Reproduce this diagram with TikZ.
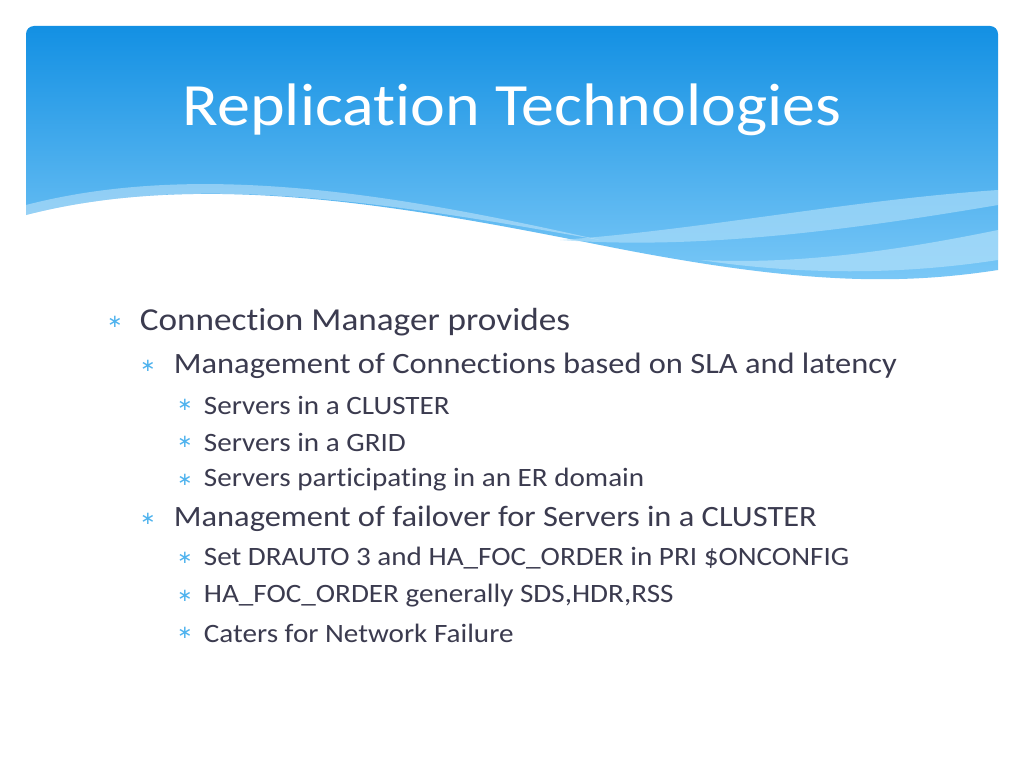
\documentclass[tikz,border=0pt]{standalone}
\usepackage{fontspec}
\setmainfont[Ligatures={NoCommon}]{Carlito}
\newfontfamily\symf{DejaVu Sans}
\definecolor{txt}{HTML}{3B3B4F}
\definecolor{bul}{HTML}{4FB3EE}
\definecolor{topb}{HTML}{1390E3}
\definecolor{botb}{HTML}{7CC9F7}
\definecolor{streak}{HTML}{A9DCF9}
\begin{document}
\begin{tikzpicture}[x=1pt,y=-1pt,
  l1/.style={anchor=west,text=txt,xscale=1.1,font=\fontsize{32}{34}\selectfont},
  l2/.style={anchor=west,text=txt,xscale=1.1,font=\fontsize{29.5}{31}\selectfont},
  l3/.style={anchor=west,text=txt,xscale=1.1,font=\fontsize{26.5}{28}\selectfont},
  b/.style={anchor=center,text=bul,font=\symf\fontsize{18}{18}\selectfont}]
\useasboundingbox (0,0) rectangle (1024,768);
\fill[white] (0,0) rectangle (1024,768);
% header
\begin{scope}
\clip[rounded corners=8] (26,26) rectangle (998,300);
\shade[top color=topb,bottom color=botb]
  (26,26) -- (998,26) -- (998,270)
  .. controls (900,285) and (800,285) .. (600,245)
  .. controls (400,205) and (200,170) .. (26,215) -- cycle;
\fill[streak,opacity=0.7] (998,190) .. controls (850,200) and (700,230) .. (560,240)
  .. controls (700,250) and (850,230) .. (998,205) -- cycle;
\fill[streak,opacity=0.8] (998,230) .. controls (900,250) and (800,265) .. (700,260)
  .. controls (800,275) and (900,275) .. (998,260) -- cycle;
\fill[white,opacity=0.35] (26,215) .. controls (200,170) and (400,205) .. (600,240)
  .. controls (400,195) and (200,160) .. (26,205) -- cycle;
\end{scope}
\node[text=white,xscale=1.1,font=\fontsize{60}{64}\selectfont] (title) at (512,110) {Replication Technologies};
% bullets
\node[b] (b1) at (115,322) {∗}; \node[l1] (t1) at (136,322) {Connection Manager provides};
\node[b] (b2) at (148,366) {∗}; \node[l2] (t2) at (170,366) {Management of Connections based on SLA and latency};
\node[b] (b3) at (185,405) {∗}; \node[l3] (t3) at (200,405) {Servers in a CLUSTER};
\node[b] (b4) at (185,442) {∗}; \node[l3] (t4) at (200,442) {Servers in a GRID};
\node[b] (b5) at (185,480) {∗}; \node[l3] (t5) at (200,480) {Servers participating in an ER domain};
\node[b] (b6) at (148,519) {∗}; \node[l2] (t6) at (170,519) {Management of failover for Servers in a CLUSTER};
\node[b] (b7) at (185,558) {∗}; \node[l3] (t7) at (200,558) {Set DRAUTO 3 and HA\_FOC\_ORDER in PRI \$ONCONFIG};
\node[b] (b8) at (185,596) {∗}; \node[l3] (t8) at (200,596) {HA\_FOC\_ORDER generally SDS,HDR,RSS};
\node[b] (b9) at (185,633) {∗}; \node[l3] (t9) at (200,633) {Caters for Network Failure};
\end{tikzpicture}
\end{document}
